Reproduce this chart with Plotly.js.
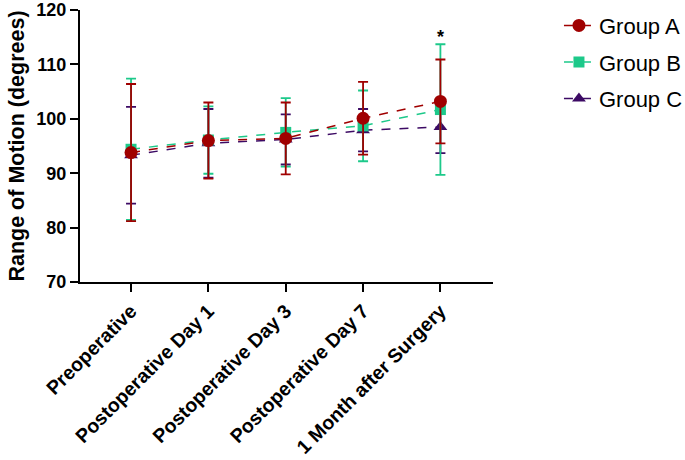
<!DOCTYPE html>
<html>
<head>
<meta charset="utf-8">
<script src="https://cdn.plot.ly/plotly-3.0.1.min.js"></script>
<style>html,body{margin:0;padding:0;background:#fff}#chart{width:685px;height:460px}</style>
</head>
<body>
<div id="chart"></div>
<script>
const categories = ["Preoperative", "Postoperative Day 1", "Postoperative Day 3", "Postoperative Day 7", "1 Month after Surgery"];
const groupA = [93.8, 96.0, 96.4, 100.1, 103.2];
const groupAErr = [12.6, 7.0, 6.6, 6.7, 7.7];
const groupB = [94.4, 96.1, 97.5, 98.7, 101.7];
const groupBErr = [13.0, 6.2, 6.3, 6.5, 12.0];
const groupC = [93.3, 95.5, 96.2, 97.9, 98.5];
const groupCErr = [8.9, 6.3, 4.6, 3.9, 4.8];
const annotText = "*";
const annotY = 115.0;

const colA = "#A00000", colB = "#1DC98A", colC = "#3C0A64";

function trace(name, y, err, color, symbol, size, rank) {
  return {
    type: "scatter", mode: "lines+markers", name: name, x: categories, y: y,
    legendgroup: name, legendrank: rank,
    line: {color: color, width: 1.5, dash: "dash"},
    marker: {color: color, symbol: symbol, size: size},
    error_y: {type: "data", array: err, visible: true, color: color, thickness: 1.8, width: 5}
  };
}

const data = [
  trace("Group C", groupC, groupCErr, colC, "triangle-up", 12, 3),
  trace("Group B", groupB, groupBErr, colB, "square", 11, 2),
  trace("Group A", groupA, groupAErr, colA, "circle", 13, 1)
];

const layout = {
  width: 685, height: 460,
  margin: {l: 80, r: 192, t: 10, b: 178, autoexpand: false},
  paper_bgcolor: "#fff", plot_bgcolor: "#fff",
  font: {family: "Liberation Sans, Arial, sans-serif", color: "#000"},
  showlegend: true,
  legend: {xref: "container", yref: "container", x: 0.816, y: 0.99, xanchor: "left", yanchor: "top", font: {size: 22}, tracegroupgap: 5, itemwidth: 30, bgcolor: "rgba(0,0,0,0)"},
  xaxis: {
    type: "category", range: [-0.66, 4.68], showgrid: false, zeroline: false,
    showline: true, linecolor: "#000", linewidth: 2,
    ticks: "outside", ticklen: 8, tickwidth: 2, tickcolor: "#000",
    tickangle: -45, tickfont: {size: 19.5, weight: "bold"}, ticklabeloverflow: "allow"
  },
  yaxis: {
    range: [70, 120], tickvals: [70, 80, 90, 100, 110, 120], showgrid: false, zeroline: false,
    showline: true, linecolor: "#000", linewidth: 2,
    ticks: "outside", ticklen: 8, tickwidth: 2, tickcolor: "#000",
    tickfont: {size: 18, weight: "bold"}, ticklabeloverflow: "allow",
    title: {text: "Range of Motion (degrees)", font: {size: 21.5, weight: "bold"}, standoff: 6}
  },
  annotations: [{x: categories[4], y: annotY, text: annotText, showarrow: false, font: {size: 18, weight: "bold"}}]
};

Plotly.newPlot("chart", data, layout, {displayModeBar: false, staticPlot: true});
</script>
</body>
</html>
